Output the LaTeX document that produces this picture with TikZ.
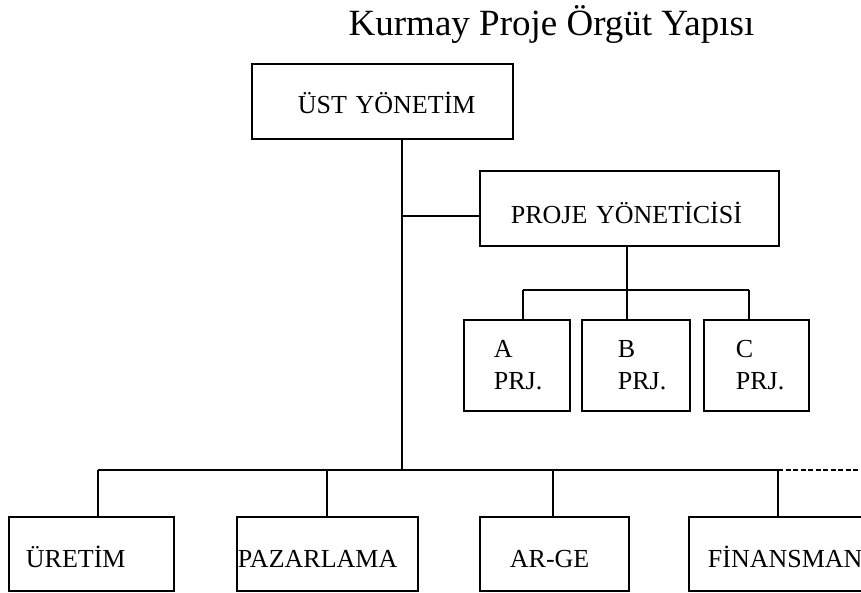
\documentclass[tikz,border=0pt]{standalone}
\usepackage{fontspec}
\setmainfont{Liberation Serif}
\begin{document}
\begin{tikzpicture}[x=1pt, y=-1pt, line width=1.8pt,
  unit/.style={draw, rectangle, anchor=north west, align=left,
    inner ysep=0pt, font=\fontsize{26}{32}\selectfont},
  oneline/.style={text height=#1, text depth=0pt},
  link/.style={line width=1.8pt},
  openlink/.style={line width=1.4pt, dash pattern=on 5pt off 2.5pt}]
\useasboundingbox (0,0) rectangle (861,592);
\clip (0,0) rectangle (861,592);

% title
\node[font=\fontsize{37}{40}\selectfont, anchor=base] (title) at (551.5,35)
  {Kurmay Proje Örgüt Yapısı};

% top management and the project manager in staff position
\node[unit, oneline=25pt, minimum width=261pt, minimum height=75pt, inner xsep=46pt, text width=169pt]
  (ust) at (251,63) {\mbox{ÜST YÖNETİM}};
\node[unit, oneline=31pt, minimum width=299pt, minimum height=75pt, inner xsep=31pt, text width=237pt]
  (proje) at (479,170) {\mbox{PROJE YÖNETİCİSİ}};

% projects
\node[unit, minimum width=106pt, minimum height=91pt, inner xsep=30pt, text width=46pt]
  (pa) at (463,319) {A\\PRJ.};
\node[unit, minimum width=108pt, minimum height=91pt, inner xsep=36pt, text width=36pt]
  (pb) at (581,319) {B\\PRJ.};
\node[unit, minimum width=105pt, minimum height=91pt, inner xsep=32pt, text width=41pt]
  (pc) at (703,319) {C\\PRJ.};

% functional departments
\node[unit, oneline=28pt, minimum width=165pt, minimum height=74pt, inner xsep=17pt, text width=131pt]
  (uretim) at (8,516) {\mbox{ÜRETİM}};
\node[unit, oneline=28pt, minimum width=181pt, minimum height=74pt, inner xsep=1pt, text width=179pt]
  (pazar) at (236,516) {\mbox{PAZARLAMA}};
\node[unit, oneline=28pt, minimum width=149pt, minimum height=74pt, inner xsep=30pt, text width=89pt]
  (arge) at (479,516) {\mbox{AR-GE}};
\node[unit, oneline=28pt, minimum width=180pt, minimum height=74pt, inner xsep=19pt, text width=142pt]
  (finans) at (688,516) {\mbox{FİNANSMAN}};

% guide coordinates
\coordinate (trunk) at (402,0);
\coordinate (staffY) at (0,216);
\coordinate (busY) at (0,470);
\coordinate (barY) at (0,290);
\coordinate (dUre) at (98,0);
\coordinate (dPaz) at (327,0);
\coordinate (dArg) at (553,0);
\coordinate (dFin) at (778,0);
\coordinate (dA) at (523,0);
\coordinate (dB) at (627,0);
\coordinate (dC) at (749,0);
\coordinate (busEnd) at (861,470);

% main line
\draw[link] (ust.south -| trunk) -- (trunk |- busY);
\draw[link] (trunk |- staffY) -- (proje.west |- staffY);

% department bus
\draw[link] (dUre |- busY) -- (dFin |- busY);
\draw[openlink] (dFin |- busY) -- (busEnd);
\draw[link] (dUre |- busY) -- (uretim.north -| dUre);
\draw[link] (dPaz |- busY) -- (pazar.north -| dPaz);
\draw[link] (dArg |- busY) -- (arge.north -| dArg);
\draw[link] (dFin |- busY) -- (finans.north -| dFin);

% project bar
\draw[link] (proje.south -| dB) -- (dB |- barY);
\draw[link] (dA |- barY) -- (dC |- barY);
\draw[link] (dA |- barY) -- (pa.north -| dA);
\draw[link] (dB |- barY) -- (pb.north -| dB);
\draw[link] (dC |- barY) -- (pc.north -| dC);
\end{tikzpicture}
\end{document}
